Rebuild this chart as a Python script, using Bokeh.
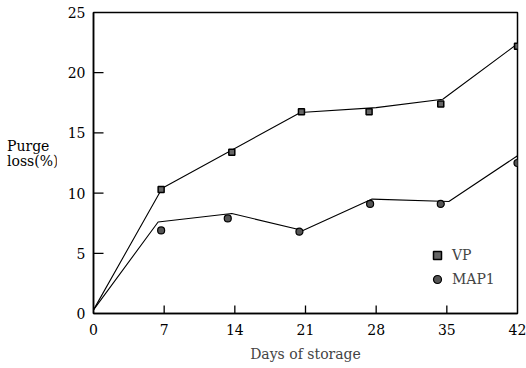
from bokeh.plotting import figure
from bokeh.models import Range1d, FixedTicker, Legend, LegendItem, Div
from bokeh.layouts import row
from bokeh.embed import file_html
from bokeh.resources import INLINE

# Measured points
vp_days = [6.7, 13.7, 20.6, 27.3, 34.4, 42.0]
vp_vals = [10.3, 13.4, 16.75, 16.75, 17.4, 22.2]
map1_days = [6.7, 13.3, 20.4, 27.4, 34.4, 42.0]
map1_vals = [6.9, 7.9, 6.8, 9.1, 9.1, 12.5]

# Fitted curves
vp_line_days = [0, 6.8, 20.5, 28, 34.6, 42]
vp_line_vals = [0.3, 10.4, 16.7, 17.1, 17.8, 22.4]
map1_line_days = [0, 6.4, 13.7, 20.75, 27.6, 35.2, 42]
map1_line_vals = [0.3, 7.6, 8.3, 6.9, 9.5, 9.3, 13.1]

x_ticks = [0, 7, 14, 21, 28, 35, 42]
y_ticks = [0, 5, 10, 15, 20, 25]

FONT = "DejaVu Serif"
X_MAX, Y_MAX = 42, 25

DIV_W = 56
FIG_W, FIG_H = 526 - DIV_W, 368
BL, BR, BT, BB = 37, 9, 12, 55

p = figure(width=FIG_W, height=FIG_H, output_backend="svg", toolbar_location=None,
           x_range=Range1d(0, X_MAX), y_range=Range1d(0, Y_MAX),
           min_border_left=BL, min_border_right=BR, min_border_top=BT, min_border_bottom=BB)
p.grid.visible = False
p.outline_line_color = "black"
p.outline_line_width = 1.5
p.background_fill_alpha = 0
p.border_fill_color = "white"

for ax in (p.xaxis[0], p.yaxis[0]):
    ax.axis_line_color = "black"
    ax.axis_line_width = 1.5
    ax.major_tick_in = 0
    ax.major_tick_out = 0
    ax.minor_tick_in = 0
    ax.minor_tick_out = 0
    ax.major_label_text_font = FONT
    ax.major_label_text_font_size = "14px"
    ax.major_label_text_color = "black"

p.xaxis[0].ticker = FixedTicker(ticks=x_ticks)
p.yaxis[0].ticker = FixedTicker(ticks=y_ticks)
p.xaxis[0].major_label_standoff = 10
p.yaxis[0].major_label_standoff = 8
p.xaxis[0].axis_label = "Days of storage"
p.xaxis[0].axis_label_text_font = FONT
p.xaxis[0].axis_label_text_font_style = "normal"
p.xaxis[0].axis_label_text_font_size = "14px"
p.xaxis[0].axis_label_standoff = 8

# inward tick marks (lengths in pixels converted to data units)
frame_w = FIG_W - BL - BR
frame_h = FIG_H - BT - BB
xt_len = 8 * Y_MAX / frame_h
yt_len = 10 * X_MAX / frame_w
inner_x = x_ticks[1:-1]
inner_y = y_ticks[1:-1]
p.segment(x0=inner_x, y0=[0] * len(inner_x), x1=inner_x, y1=[xt_len] * len(inner_x),
          line_color="black", line_width=1.3)
p.segment(x0=[0] * len(inner_y), y0=inner_y, x1=[yt_len] * len(inner_y), y1=inner_y,
          line_color="black", line_width=1.3)

p.line(vp_line_days, vp_line_vals, line_color="black", line_width=1.1)
p.line(map1_line_days, map1_line_vals, line_color="black", line_width=1.1)
r_vp = p.scatter(vp_days, vp_vals, marker="square", size=6, fill_color="#666666",
                 line_color="black", line_width=1.5)
r_map = p.scatter(map1_days, map1_vals, marker="circle", size=7, fill_color="#555555",
                  line_color="black", line_width=1.2)

legend = Legend(items=[LegendItem(label="VP", renderers=[r_vp]),
                       LegendItem(label="MAP1", renderers=[r_map])],
                location=(334, 24), border_line_color=None, background_fill_alpha=0,
                label_text_font=FONT, label_text_font_size="14px", padding=0,
                spacing=4, glyph_width=20, glyph_height=20, label_standoff=5, margin=0)
p.add_layout(legend)

ylab = Div(text="Purge<br>loss(%)", width=DIV_W, height=FIG_H, margin=0,
           styles={"font-family": FONT, "font-size": "14px", "line-height": "15px",
                   "padding-top": "139px", "padding-left": "7px", "color": "black",
                   "white-space": "nowrap"})

layout = row(ylab, p, spacing=0)
open("out.html", "w").write(file_html(layout, INLINE))
